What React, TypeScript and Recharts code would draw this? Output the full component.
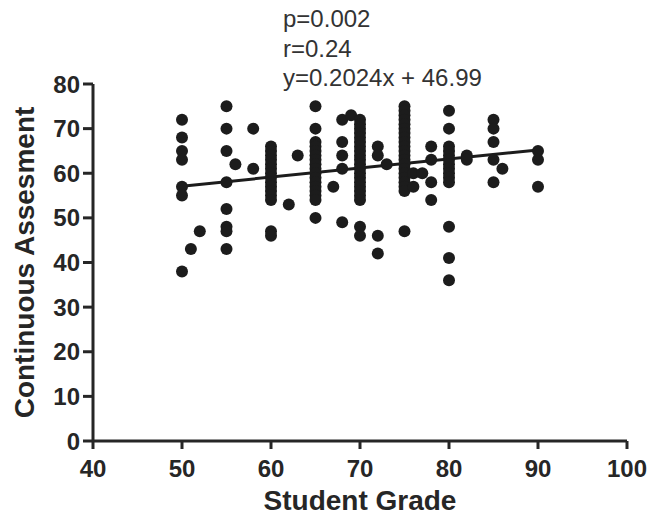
import { ScatterChart, Scatter, XAxis, YAxis, ReferenceLine } from "recharts";

// student grade columns and the assessment marks read at each one
const grades = [50, 51, 52, 55, 56, 58, 60, 62, 63, 65, 67, 68, 69, 70, 72, 73, 75, 76, 77, 78, 80, 82, 85, 86, 90];
const marks = [
  [72, 68, 65, 63, 57, 55, 38],
  [43],
  [47],
  [75, 70, 65, 58, 52, 48, 47, 43],
  [62],
  [70, 61],
  [66, 65, 64, 63, 62, 61, 60, 59, 58, 57, 56, 55, 54, 47, 46],
  [53],
  [64],
  [75, 70, 67, 66, 65, 64, 63, 62, 61, 60, 59, 58, 57, 56, 55, 54, 50],
  [57],
  [72, 67, 64, 61, 49],
  [73],
  [72, 71, 70, 69, 68, 67, 66, 65, 64, 63, 62, 61, 60, 59, 58, 57, 56, 55, 54, 48, 46],
  [66, 64, 46, 42],
  [62],
  [75, 74, 73, 72, 71, 70, 69, 68, 67, 66, 65, 64, 63, 62, 61, 60, 59, 58, 57, 56, 47],
  [60, 57],
  [60],
  [66, 63, 58, 54],
  [74, 70, 66, 65, 64, 63, 62, 61, 60, 59, 58, 48, 41, 36],
  [64, 63],
  [72, 70, 67, 63, 58],
  [61],
  [65, 63, 57],
];

// fitted line y = 0.2024x + 46.99 at the ends of the data
const fitLine = [
  { x: 50, y: 57.11 },
  { x: 90, y: 65.21 },
];

const xTicks = [40, 50, 60, 70, 80, 90, 100];
const yTicks = [0, 10, 20, 30, 40, 50, 60, 70, 80];
const statLines = ["p=0.002", "r=0.24", "y=0.2024x + 46.99"];

const points = grades.flatMap((g, i) => marks[i].map((m) => ({ x: g, y: m })));

const ink = "#262626";
const dotColor = "#1c1c1c";
const font = "'Liberation Sans', Arial, sans-serif";

const Dot = (props: any) => <circle cx={props.cx} cy={props.cy} r={6} fill={dotColor} />;

export default function App() {
  return (
    <div style={{ position: "absolute", left: 0, top: 0, width: 651, height: 520, background: "#fff" }}>
      <ScatterChart width={651} height={520} margin={{ top: 84, right: 24, bottom: 0, left: 0 }}>
        <XAxis
          type="number"
          dataKey="x"
          domain={[40, 100]}
          ticks={xTicks}
          height={79}
          stroke={ink}
          strokeWidth={3}
          tickSize={8}
          tickMargin={11}
          tick={{ fill: ink, fontSize: 24, fontWeight: "bold", fontFamily: font }}
          tickLine={{ stroke: ink, strokeWidth: 3 }}
          label={{
            value: "Student Grade",
            position: "insideBottom",
            offset: 10,
            style: { fill: ink, fontSize: 28, fontWeight: "bold", fontFamily: font },
          }}
        />
        <YAxis
          type="number"
          dataKey="y"
          domain={[0, 80]}
          ticks={yTicks}
          width={93}
          stroke={ink}
          strokeWidth={3}
          tickSize={10}
          tickMargin={3}
          tick={{ fill: ink, fontSize: 24, fontWeight: "bold", fontFamily: font }}
          tickLine={{ stroke: ink, strokeWidth: 3 }}
          label={{
            value: "Continuous Assesment",
            angle: -90,
            position: "insideLeft",
            offset: 24,
            style: { textAnchor: "middle", fill: ink, fontSize: 28, fontWeight: "bold", fontFamily: font },
          }}
        />
        <Scatter data={points} fill={dotColor} isAnimationActive={false} shape={Dot} />
        <ReferenceLine
          segment={[fitLine[0], fitLine[1]]}
          stroke={dotColor}
          strokeWidth={3}
        />
      </ScatterChart>
      <svg width={651} height={100} style={{ position: "absolute", left: 0, top: 0, pointerEvents: "none" }}>
        {statLines.map((t, i) => (
          <text key={t} x={283} y={27 + i * 29.5} fill="#333" fontSize={24} fontFamily={font}>
            {t}
          </text>
        ))}
      </svg>
    </div>
  );
}
